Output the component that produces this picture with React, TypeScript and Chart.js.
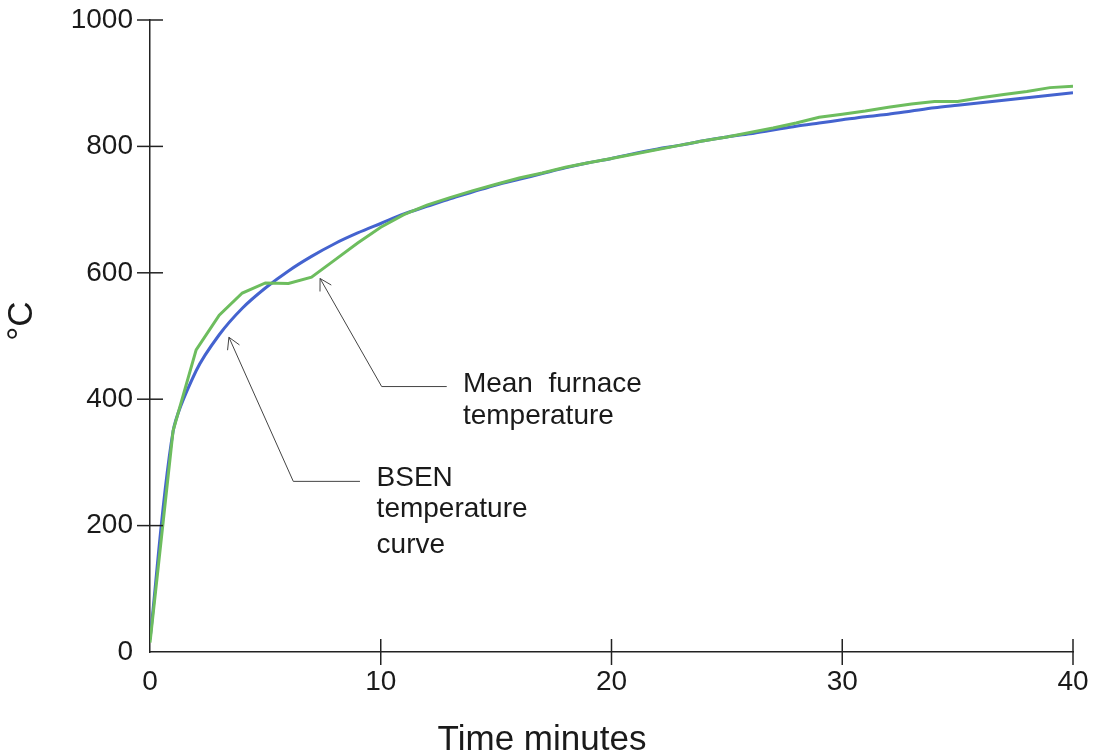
import React, { useEffect, useRef } from "react";
import { Chart, registerables } from "chart.js";

Chart.register(...registerables);

const minutes = [
  0, 1, 2, 3, 4, 5, 6, 7, 8, 9, 10, 11, 12, 13, 14, 15, 16, 17, 18, 19, 20,
  21, 22, 23, 24, 25, 26, 27, 28, 29, 30, 31, 32, 33, 34, 35, 36, 37, 38, 39, 40,
];

const bsenCurve = [
  20, 349, 445, 502, 544, 576, 603, 626, 646, 663, 678, 693, 705, 717, 728,
  739, 748, 757, 766, 774, 781, 789, 796, 802, 809, 815, 820, 826, 832, 837,
  842, 847, 851, 856, 861, 865, 869, 873, 877, 881, 885,
];

const meanFurnace = [
  15, 350, 478, 533, 568, 584, 583, 593, 620, 647, 672, 692, 707, 719, 730,
  740, 750, 758, 767, 774, 781, 788, 795, 802, 809, 815, 822, 829, 837, 846,
  851, 856, 862, 867, 871, 871, 877, 882, 887, 893, 895,
];

const xTicks = [0, 10, 20, 30, 40];
const yTicks = [0, 200, 400, 600, 800, 1000];

// annotation arrows in data coordinates: tip, elbow, end
const bsenArrow = [
  [3.42, 498],
  [6.21, 270],
  [9.1, 270],
];
const furnaceArrow = [
  [7.37, 591],
  [10.04, 420],
  [12.86, 420],
];
const bsenLabel = { t: 9.82, values: [262, 214, 157], lines: ["BSEN", "temperature", "curve"] };
const furnaceLabel = { t: 13.56, values: [412, 361], lines: ["Mean  furnace", "temperature"] };

const FONT = "'Liberation Sans', Arial, Helvetica, sans-serif";

const decorPlugin = {
  id: "decor",
  afterDraw(chart: any) {
    const ctx = chart.ctx;
    const xs = chart.scales.x;
    const ys = chart.scales.y;
    const area = chart.chartArea;
    ctx.save();
    // crossing tick marks
    ctx.strokeStyle = "#222";
    ctx.lineWidth = 1.5;
    xTicks.forEach((v) => {
      if (v === 0) return;
      const px = xs.getPixelForValue(v);
      ctx.beginPath();
      ctx.moveTo(px, area.bottom - 13);
      ctx.lineTo(px, area.bottom + 13);
      ctx.stroke();
    });
    yTicks.forEach((v) => {
      if (v === 0) return;
      const py = ys.getPixelForValue(v);
      ctx.beginPath();
      ctx.moveTo(area.left - 13, py);
      ctx.lineTo(area.left + 13, py);
      ctx.stroke();
    });

    // arrows
    const drawArrow = (pts: number[][]) => {
      const p = pts.map(([t, v]) => [xs.getPixelForValue(t), ys.getPixelForValue(v)]);
      ctx.strokeStyle = "#444";
      ctx.lineWidth = 1;
      ctx.beginPath();
      ctx.moveTo(p[0][0], p[0][1]);
      for (let i = 1; i < p.length; i++) ctx.lineTo(p[i][0], p[i][1]);
      ctx.stroke();
      const ang = Math.atan2(p[1][1] - p[0][1], p[1][0] - p[0][0]);
      const len = 13;
      const spread = (30 * Math.PI) / 180;
      ctx.beginPath();
      ctx.moveTo(p[0][0] + len * Math.cos(ang - spread), p[0][1] + len * Math.sin(ang - spread));
      ctx.lineTo(p[0][0], p[0][1]);
      ctx.lineTo(p[0][0] + len * Math.cos(ang + spread), p[0][1] + len * Math.sin(ang + spread));
      ctx.stroke();
    };
    drawArrow(bsenArrow);
    drawArrow(furnaceArrow);

    // labels
    ctx.fillStyle = "#1a1a1a";
    ctx.font = `28px ${FONT}`;
    ctx.textAlign = "left";
    ctx.textBaseline = "alphabetic";
    [bsenLabel, furnaceLabel].forEach((lab) => {
      const px = xs.getPixelForValue(lab.t);
      lab.lines.forEach((s, i) => {
        ctx.fillText(s, px, ys.getPixelForValue(lab.values[i]));
      });
    });

    // axis titles
    ctx.font = `35px ${FONT}`;
    ctx.textAlign = "center";
    ctx.fillText("Time minutes", 542, 750);
    ctx.translate(22, 321);
    ctx.rotate(-Math.PI / 2);
    ctx.textBaseline = "middle";
    ctx.fillText("°C", 0, 0);
    ctx.restore();
  },
};

export default function App() {
  const ref = useRef<HTMLCanvasElement | null>(null);

  useEffect(() => {
    document.body.style.margin = "0";
    if (!ref.current) return;
    const chart = new Chart(ref.current, {
      type: "line",
      data: {
        labels: minutes,
        datasets: [
          {
            label: "Mean furnace temperature",
            data: minutes.map((t, i) => ({ x: t, y: meanFurnace[i] })),
            borderColor: "#6dbd5e",
            borderWidth: 3,
            pointRadius: 0,
            tension: 0,
            fill: false,
          },
          {
            label: "BSEN temperature curve",
            data: minutes.map((t, i) => ({ x: t, y: bsenCurve[i] })),
            borderColor: "#4463cf",
            borderWidth: 3,
            pointRadius: 0,
            tension: 0.3,
            fill: false,
          },
        ],
      },
      options: {
        animation: false,
        responsive: false,
        events: [],
        layout: { padding: { left: 0, right: 21, top: 20, bottom: 0 } },
        plugins: {
          legend: { display: false },
          tooltip: { enabled: false },
          title: { display: false },
        },
        scales: {
          x: {
            type: "linear",
            min: 0,
            max: 40,
            afterBuildTicks: (s: any) => {
              s.ticks = xTicks.map((v) => ({ value: v }));
            },
            afterFit: (s: any) => {
              s.height = 104;
              s.paddingLeft = 0;
              s.paddingRight = 0;
            },
            grid: { display: false, drawTicks: false },
            border: { display: true, color: "#222", width: 1.5 },
            ticks: {
              color: "#1a1a1a",
              font: { family: FONT, size: 28 },
              padding: 13,
              maxRotation: 0,
              callback: (v: any) => String(v),
            },
          },
          y: {
            min: 0,
            max: 1000,
            afterBuildTicks: (s: any) => {
              s.ticks = yTicks.map((v) => ({ value: v }));
            },
            afterFit: (s: any) => {
              s.width = 150;
              s.paddingTop = 0;
              s.paddingBottom = 0;
            },
            grid: { display: false, drawTicks: false },
            border: { display: true, color: "#222", width: 1.5 },
            ticks: {
              color: "#1a1a1a",
              font: { family: FONT, size: 28 },
              padding: 17,
              callback: (v: any) => String(v),
            },
          },
        },
      },
      plugins: [decorPlugin],
    } as any);
    return () => chart.destroy();
  }, []);

  return (
    <div style={{ position: "absolute", left: 0, top: 0, width: 1094, height: 756, background: "#fff" }}>
      <canvas ref={ref} width={1094} height={756} style={{ display: "block" }} />
    </div>
  );
}
